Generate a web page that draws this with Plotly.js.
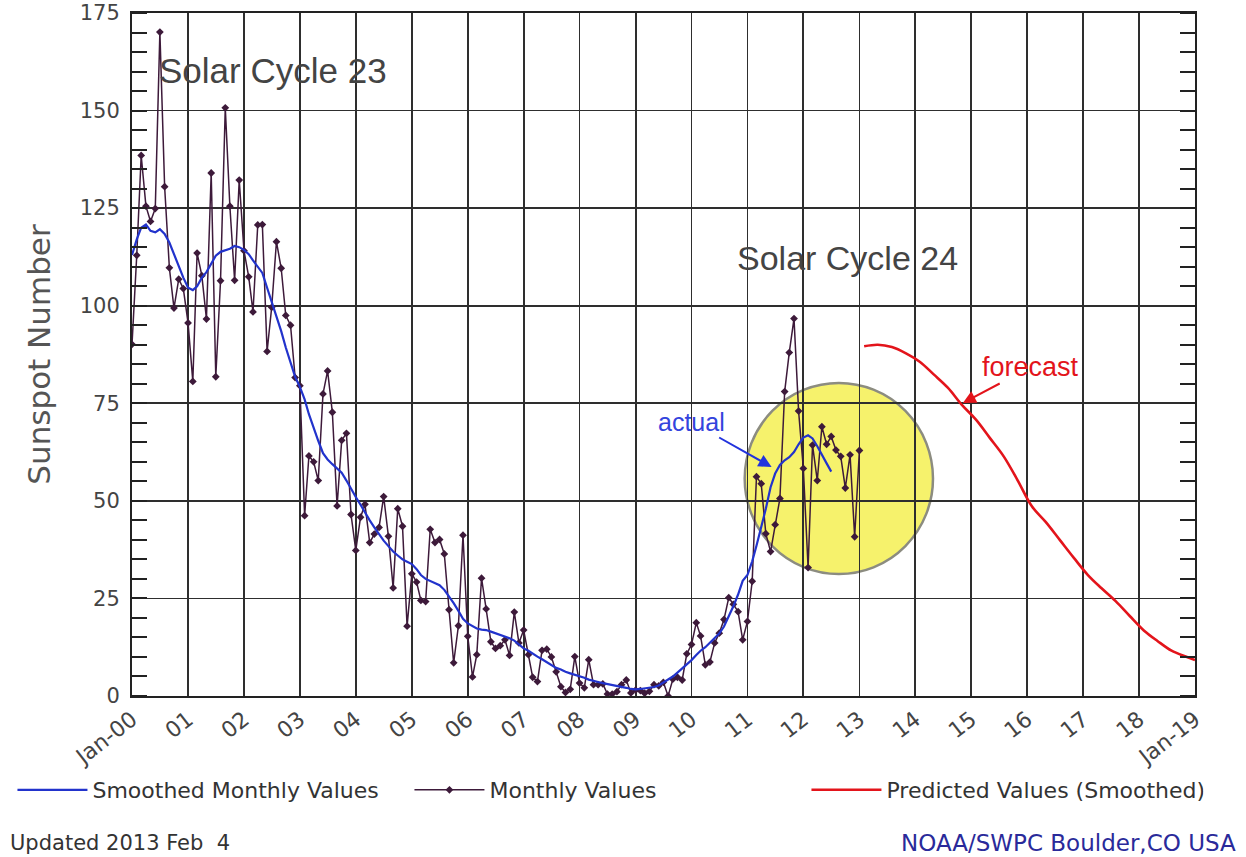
<!DOCTYPE html>
<html><head><meta charset="utf-8">
<script src="https://cdn.plot.ly/plotly-3.0.1.min.js"></script>
<style>html,body{margin:0;padding:0;background:#fff}#chart{width:1246px;height:857px}</style>
</head><body><div id="chart"></div>
<script>
// ---- data ----
const startYear = 2000; // first month = Jan 2000
const monthlyValues = [
  90.1,112.9,138.5,125.5,121.6,124.9,170.1,130.5,109.7,99.4,106.8,104.4,
  95.6,80.6,113.5,107.7,96.6,134.0,81.8,106.4,150.7,125.5,106.5,132.2,
  114.1,107.4,98.4,120.7,120.8,88.3,99.6,116.4,109.6,97.5,95.0,81.6,
  79.5,46.2,61.5,60.0,55.2,77.4,83.3,72.7,48.7,65.5,67.3,46.5,
  37.3,45.8,49.1,39.3,41.5,43.2,51.1,40.9,27.7,48.0,43.5,17.9,
  31.3,29.2,24.5,24.2,42.7,39.3,40.1,36.4,22.1,8.5,18.0,41.2,
  15.3,4.9,10.6,30.2,22.3,13.9,12.2,12.9,14.4,10.4,21.5,13.6,
  16.9,10.6,4.8,3.7,11.7,12.0,10.0,6.2,2.4,0.9,1.7,10.1,
  3.3,2.1,9.3,2.9,2.9,3.1,0.5,0.5,1.1,2.9,4.1,0.8,
  1.5,1.4,0.7,1.2,2.9,2.6,3.5,0.0,4.3,4.8,4.1,10.8,
  13.2,18.8,15.4,8.0,8.7,13.6,16.1,19.6,25.2,23.5,21.6,14.4,
  19.1,29.4,56.2,54.4,41.6,37.0,43.9,50.6,78.0,88.0,96.7,73.0,
  58.3,32.9,64.3,55.2,69.0,64.5,66.5,63.0,61.4,53.3,61.8,40.8,
  62.9
];
const smoothedValues = [
  113,117,120,120.8,119.2,118.8,119.6,118.4,116.2,113.2,110.2,107.2,
  104.6,104,105,107.2,108.6,110.6,112.8,113.8,114.2,114.6,115.3,115,
  114.3,113.2,111.6,110,108.4,104.6,101,97.2,93.5,89.3,85.2,81.8,
  79.2,76,72.2,68.6,65.4,62.2,60.6,59.4,58.4,57.2,55.2,53,
  51,49,47,45,43.2,41.4,39.8,38.4,37,36,35,34.4,
  33.8,32.5,31,30,29.5,29,28.4,27.2,25.5,23.8,21.8,19.8,
  18.6,17.8,17.3,17,16.9,16.5,16.1,15.6,15.2,14.8,14.2,13.3,
  12.2,11.6,10.8,10.1,9.4,8.6,7.8,7.2,6.8,6.2,5.8,5.5,
  5.1,4.7,4.2,3.8,3.6,3.3,3.1,2.9,2.7,2.4,2.1,1.8,
  1.7,1.8,1.9,2.1,2.3,2.7,3.4,4.2,5,6,7,8,
  9.2,10.5,11.6,12.5,13.6,14.8,16,17.8,20.3,23,26,29.5,
  31,34.5,38.5,43,48,53.5,57,59.2,60.4,61.2,62.5,64.5,
  66.2,66.8,66,64,62,59.6,57.5
];
const predictedDates = [
  '2013-02-01','2013-05-01','2013-08-01','2013-11-01',
  '2014-02-01','2014-05-01','2014-08-01','2014-11-01',
  '2015-02-01','2015-05-01','2015-08-01','2015-11-01',
  '2016-02-01','2016-05-01','2016-08-01','2016-11-01',
  '2017-02-01','2017-05-01','2017-08-01','2017-11-01',
  '2018-02-01','2018-05-01','2018-08-01','2018-11-01','2019-01-01'
];
const predictedValues = [
  89.6,90.0,89.4,87.8,
  85.6,82.4,79.0,74.6,
  70.8,66.2,61.4,55.2,
  48.6,44.6,40.0,35.4,
  31.0,27.6,24.3,20.5,
  16.8,14.1,11.6,10.1,9.2
];
const yearTicks = ['2000','2001','2002','2003','2004','2005','2006','2007','2008','2009',
  '2010','2011','2012','2013','2014','2015','2016','2017','2018','2019'].map(y => y + '-01-01');
const yearTickLabels = ['Jan-00','01','02','03','04','05','06','07','08','09',
  '10','11','12','13','14','15','16','17','18','Jan-19'];
const yTickVals = [0,25,50,75,100,125,150,175];

// ---- helpers ----
function monthDates(n) {
  const out = [];
  for (let i = 0; i < n; i++) {
    const y = startYear + Math.floor(i / 12);
    const m = (i % 12) + 1;
    out.push(y + '-' + String(m).padStart(2, '0') + '-01');
  }
  return out;
}
const W = 1246, H = 857;
const L = 128, R = 1195, T = 13, B = 696;
const PX = x => (x - L) / (R - L);
const PY = y => (B - y) / (B - T);

const FONT = 'DejaVu Sans, sans-serif';
const ARIAL = 'Liberation Sans, Arial, sans-serif';

const traces = [
  {
    x: monthDates(monthlyValues.length), y: monthlyValues,
    type: 'scatter', mode: 'lines+markers', name: 'Monthly Values',
    line: {color: '#3d1a3a', width: 1.5},
    marker: {symbol: 'diamond', size: 6, color: '#3d1a3a'},
    legendrank: 2
  },
  {
    x: monthDates(smoothedValues.length), y: smoothedValues,
    type: 'scatter', mode: 'lines', name: 'Smoothed Monthly Values',
    line: {color: '#2233cc', width: 2.2},
    legendrank: 1
  },
  {
    x: predictedDates, y: predictedValues,
    type: 'scatter', mode: 'lines', name: 'Predicted Values (Smoothed)',
    line: {color: '#e3141b', width: 2.6, shape: 'spline'},
    legendrank: 3
  }
];

const layout = {
  width: W, height: H,
  margin: {l: L, r: W - R, t: T, b: H - B},
  paper_bgcolor: '#ffffff', plot_bgcolor: 'rgba(0,0,0,0)',
  font: {family: FONT, color: '#3a3a3a', size: 18},
  showlegend: true,
  legend: {
    orientation: 'h', x: PX(8), y: PY(790), xanchor: 'left', yanchor: 'middle',
    entrywidth: 312, entrywidthmode: 'pixels', itemwidth: 70,
    bgcolor: 'rgba(0,0,0,0)',
    font: {family: FONT, size: 22, color: '#333'}, traceorder: 'normal'
  },
  xaxis: {
    type: 'date', range: ['2000-01-01', '2019-01-01'],
    tickmode: 'array', tickvals: yearTicks, ticktext: yearTickLabels,
    tickangle: -38, ticks: '', showgrid: true, gridcolor: '#2e2e2e', gridwidth: 1.8,
    showline: true, linecolor: '#222', linewidth: 2, mirror: true,
    tickfont: {family: FONT, size: 22, color: '#444'}, zeroline: false
  },
  yaxis: {
    range: [0, 175], tickmode: 'array', tickvals: yTickVals,
    ticks: '', showgrid: true, gridcolor: '#2e2e2e', gridwidth: 1.8,
    showline: true, linecolor: '#222', linewidth: 2, mirror: 'ticks',
    minor: {dtick: 5, ticks: 'inside', ticklen: 15, tickwidth: 2, tickcolor: '#222', showgrid: false},
    tickfont: {family: FONT, size: 21, color: '#444'}, zeroline: false, ticklabelstandoff: 6,
    title: {text: 'Sunspot Number', font: {family: FONT, size: 31, color: '#555'}, standoff: 20}
  },
  shapes: [
    {type: 'circle', xref: 'paper', yref: 'paper', layer: 'below',
     x0: PX(743), x1: PX(932), y0: PY(574), y1: PY(383),
     fillcolor: '#f6f26c', line: {color: '#8c8c80', width: 2.5}}
  ],
  annotations: [
    {xref: 'paper', yref: 'paper', x: PX(270), y: PY(71), xanchor: 'center', yanchor: 'middle',
     text: 'Solar Cycle 23', showarrow: false,
     font: {family: ARIAL, size: 35, color: '#444'}},
    {xref: 'paper', yref: 'paper', x: PX(846), y: PY(258), xanchor: 'center', yanchor: 'middle',
     text: 'Solar Cycle 24', showarrow: false,
     font: {family: ARIAL, size: 34, color: '#444'}},
    {xref: 'paper', yref: 'paper', x: PX(770), y: PY(467), text: 'actual', showarrow: true,
     ax: -80, ay: -45, arrowhead: 2, arrowsize: 1.3, arrowwidth: 2, arrowcolor: '#2233dd',
     font: {family: ARIAL, size: 25, color: '#3344dd'}},
    {xref: 'paper', yref: 'paper', x: PX(962), y: PY(403), text: 'forecast', showarrow: true,
     ax: 68, ay: -36, arrowhead: 2, arrowsize: 1.3, arrowwidth: 2, arrowcolor: '#e3141b',
     font: {family: ARIAL, size: 27, color: '#e3141b'}},
    {xref: 'paper', yref: 'paper', x: PX(4), y: PY(843), xanchor: 'left', yanchor: 'middle',
     text: 'Updated 2013 Feb&nbsp;&nbsp;4', showarrow: false,
     font: {family: FONT, size: 21, color: '#333'}},
    {xref: 'paper', yref: 'paper', x: PX(1238), y: PY(843), xanchor: 'right', yanchor: 'middle',
     text: 'NOAA/SWPC Boulder,CO USA', showarrow: false,
     font: {family: FONT, size: 23, color: '#2a2a9a'}}
  ]
};

Plotly.newPlot('chart', traces, layout, {displayModeBar: false, staticPlot: true});
</script>
</body></html>
